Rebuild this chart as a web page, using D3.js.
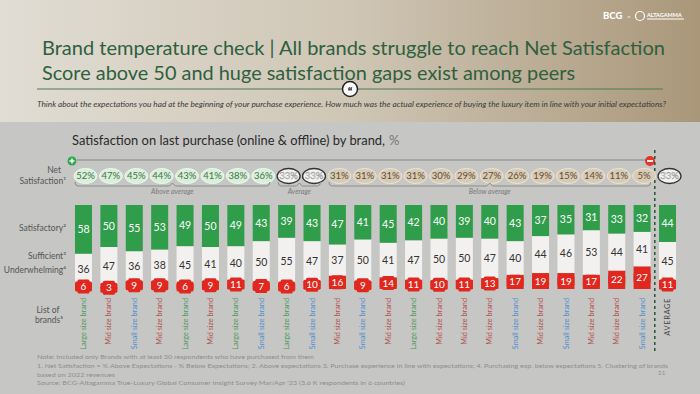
<!DOCTYPE html>
<html>
<head>
<meta charset="utf-8">
<script src="https://cdn.jsdelivr.net/npm/d3@7"></script>
<style>
  body { margin: 0; background: #c6c6c4; }
  svg { display: block; font-family: Lato, "Noto Sans", sans-serif; }
</style>
</head>
<body>
<svg id="chart" width="700" height="394"></svg>
<script>
// brand size cluster per column, last one is the average
var brands = ["Large", "Mid", "Small", "Mid", "Large", "Mid", "Large", "Small", "Large", "Small", "Mid",
              "Small", "Mid", "Large", "Mid", "Mid", "Mid", "Small", "Mid", "Small", "Mid", "Mid", "Small", "AVERAGE"];
var netSat = [52, 47, 45, 44, 43, 41, 38, 36, 33, 33, 31, 31, 31, 31, 30, 29, 27, 26, 19, 15, 14, 11, 5, 33];
var satisfactory = [58, 50, 55, 53, 49, 50, 49, 43, 39, 43, 47, 41, 45, 42, 40, 39, 40, 43, 37, 35, 31, 33, 32, 44];
var sufficient = [36, 47, 36, 38, 45, 41, 40, 50, 55, 47, 37, 50, 41, 47, 50, 50, 47, 40, 44, 46, 53, 44, 41, 45];
var underwhelming = [6, 3, 9, 9, 6, 9, 11, 7, 6, 10, 16, 9, 14, 11, 10, 11, 13, 17, 19, 19, 17, 22, 27, 11];
var groups = [
  { label: "Above average", first: 0, last: 7, kind: "above" },
  { label: "Average", first: 8, last: 9, kind: "avg" },
  { label: "Below average", first: 10, last: 22, kind: "below" }
];
var brandColor = { Large: "#4e9a5c", Mid: "#b3524e", Small: "#4f90cf", AVERAGE: "#444" };

var svg = d3.select("#chart");
var defs = svg.append("defs");
var grad = defs.append("linearGradient").attr("id", "head").attr("x1", "0").attr("x2", "1");
grad.append("stop").attr("offset", "0%").attr("stop-color", "#e1ddd4");
grad.append("stop").attr("offset", "50%").attr("stop-color", "#cfc6b5");
grad.append("stop").attr("offset", "100%").attr("stop-color", "#aa977a");

// fit a text line to a given width
function fit(sel, w) {
  sel.attr("textLength", w).attr("lengthAdjust", "spacingAndGlyphs");
  return sel;
}

// header
svg.append("rect").attr("width", 700).attr("height", 122).attr("fill", "url(#head)");
svg.append("rect").attr("y", 122).attr("width", 700).attr("height", 272).attr("fill", "#c6c6c4");

var logo = svg.append("g").attr("fill", "#fff");
logo.append("text").attr("x", 603).attr("y", 19).attr("font-size", 9.5).attr("font-weight", 900).text("BCG");
logo.append("text").attr("x", 627).attr("y", 18.5).attr("font-size", 6.5).attr("fill", "#eee").text("×");
logo.append("circle").attr("cx", 640).attr("cy", 16).attr("r", 4.5).attr("fill", "none").attr("stroke", "#fff").attr("stroke-width", 1.2);
logo.append("text").attr("x", 647).attr("y", 17).attr("font-size", 5.5).attr("font-weight", 700).text("ALTAGAMMA");
logo.append("rect").attr("x", 647).attr("y", 18.5).attr("width", 37).attr("height", 1).attr("fill", "#fff");

fit(svg.append("text").attr("x", 42).attr("y", 55).attr("font-size", 19).attr("fill", "#2f5f3e")
  .text("Brand temperature check | All brands struggle to reach Net Satisfaction"), 623);
fit(svg.append("text").attr("x", 42).attr("y", 80).attr("font-size", 19).attr("fill", "#2f5f3e")
  .text("Score above 50 and huge satisfaction gaps exist among peers"), 533);

svg.append("line").attr("x1", 37).attr("x2", 663).attr("y1", 89).attr("y2", 89)
  .attr("stroke", "#4d7b57").attr("stroke-width", 1.2);
svg.append("circle").attr("cx", 350).attr("cy", 89).attr("r", 7.5).attr("fill", "#fff")
  .attr("stroke", "#222").attr("stroke-width", 1.5);
svg.append("text").attr("x", 350).attr("y", 96).attr("text-anchor", "middle").attr("font-size", 12)
  .attr("font-weight", 900).attr("fill", "#111").text("\u201C");

fit(svg.append("text").attr("x", 37).attr("y", 107).attr("font-size", 8).attr("font-style", "italic").attr("fill", "#3a3a3a")
  .text("Think about the expectations you had at the beginning of your purchase experience. How much was the actual experience of buying the luxury item in line with your initial expectations?"), 629);

fit(svg.append("text").attr("x", 72).attr("y", 145).attr("font-size", 13).attr("fill", "#2a2a2a")
  .text("Satisfaction on last purchase (online & offline) by brand,"), 313);
svg.append("text").attr("x", 389).attr("y", 145).attr("font-size", 13).attr("fill", "#777").text("%");

// scales
var x = d3.scaleBand().domain(d3.range(brands.length)).range([70.8, 680.2]).paddingInner(0.33).paddingOuter(0.165);
var y = d3.scaleLinear().domain([0, 100]).range([289, 205]);
var bw = x.bandwidth();
function cx(i) { return x(i) + bw / 2; }

// row labels
var rowLab = svg.append("g").attr("font-size", 8.5).attr("fill", "#555").attr("text-anchor", "end");
rowLab.append("text").attr("x", 61).attr("y", 173).text("Net");
rowLab.append("text").attr("x", 66).attr("y", 184).text("Satisfaction¹");
rowLab.append("text").attr("x", 66).attr("y", 231).text("Satisfactory²");
rowLab.append("text").attr("x", 66).attr("y", 259).text("Sufficient³");
rowLab.append("text").attr("x", 66).attr("y", 273).text("Underwhelming⁴");
rowLab.append("text").attr("x", 48).attr("y", 313).attr("text-anchor", "middle").text("List of");
rowLab.append("text").attr("x", 49).attr("y", 323).attr("text-anchor", "middle").text("brands⁵");

// scale line with plus / minus
svg.append("line").attr("x1", 77).attr("x2", 646).attr("y1", 160).attr("y2", 160)
  .attr("stroke", "#9b9b9b").attr("stroke-width", 1.5);
svg.append("circle").attr("cx", 72).attr("cy", 161).attr("r", 4.5).attr("fill", "#2ea84e");
svg.append("path").attr("d", "M69.5,161H74.5M72,158.5V163.5").attr("stroke", "#fff").attr("stroke-width", 1.5);
svg.append("circle").attr("cx", 650).attr("cy", 161).attr("r", 5).attr("fill", "#e2352b");
svg.append("path").attr("d", "M647,161H653").attr("stroke", "#fff").attr("stroke-width", 1.8);

// dashed separator before the average
var sepX = (cx(brands.length - 2) + cx(brands.length - 1)) / 2;
svg.append("line").attr("x1", sepX).attr("x2", sepX).attr("y1", 150).attr("y2", 352)
  .attr("stroke", "#1e4a2c").attr("stroke-width", 1.4).attr("stroke-dasharray", "3,3");

// net satisfaction pills
function kindOf(i) {
  if (i === brands.length - 1) return "avg";
  var g = groups.find(function(g) { return i >= g.first && i <= g.last; });
  return g.kind;
}
var pillStyle = {
  above: { fill: "#d6f1d8", stroke: "#eef8ee", text: "#4d6b52" },
  avg: { fill: "#f3f3f3", stroke: "#333", text: "#fff" },
  below: { fill: "#d8cbb4", stroke: "#ece5d8", text: "#5e4c3a" }
};
var pills = svg.append("g").selectAll("g").data(netSat).enter().append("g")
  .attr("transform", function(d, i) { return "translate(" + (cx(i) + 2) + ",176)"; });
pills.append("ellipse").attr("rx", 11.5).attr("ry", 7.5)
  .attr("fill", function(d, i) { return pillStyle[kindOf(i)].fill; })
  .attr("stroke", function(d, i) { return pillStyle[kindOf(i)].stroke; })
  .attr("stroke-width", function(d, i) { return kindOf(i) === "avg" ? 1.3 : 1; });
pills.append("text").attr("text-anchor", "middle").attr("dy", "0.35em").attr("font-size", 9.5)
  .attr("fill", function(d, i) { return pillStyle[kindOf(i)].text; })
  .attr("stroke", function(d, i) { return kindOf(i) === "avg" ? "#8a8a8a" : "none"; })
  .attr("stroke-width", 0.4)
  .text(function(d) { return d + "%"; });

// group brackets
var br = svg.append("g").selectAll("g").data(groups).enter().append("g");
br.append("path").attr("fill", "none").attr("stroke", "#8c8c8c").attr("stroke-width", 1)
  .attr("d", function(g) {
    var x0 = x(g.first), x1 = x(g.last) + bw, m = (x0 + x1) / 2;
    return "M" + x0 + ",182Q" + x0 + ",186 " + (x0 + 3) + ",186H" + (m - 3) + "L" + m + ",183L" + (m + 3) + ",186H" + (x1 - 3) + "Q" + x1 + ",186 " + x1 + ",182";
  });
br.append("text").attr("x", function(g) { return (x(g.first) + x(g.last) + bw) / 2; }).attr("y", 194)
  .attr("text-anchor", "middle").attr("font-size", 7).attr("font-style", "italic").attr("fill", "#7a7a7a")
  .text(function(g) { return g.label; });

// stacked bars
var cols = svg.append("g").selectAll("g").data(brands).enter().append("g");
cols.append("rect").attr("x", function(d, i) { return x(i); }).attr("width", bw)
  .attr("y", function(d, i) { return y(underwhelming[i]); })
  .attr("height", function(d, i) { return y(0) - y(underwhelming[i]); })
  .attr("fill", "#e0281f");
cols.append("rect").attr("x", function(d, i) { return x(i); }).attr("width", bw)
  .attr("y", function(d, i) { return y(underwhelming[i] + sufficient[i]); })
  .attr("height", function(d, i) { return y(underwhelming[i]) - y(underwhelming[i] + sufficient[i]); })
  .attr("fill", "#f3f1ef");
cols.append("rect").attr("x", function(d, i) { return x(i); }).attr("width", bw)
  .attr("y", y(100))
  .attr("height", function(d, i) { return y(underwhelming[i] + sufficient[i]) - y(100); })
  .attr("fill", "#2f9d4a");

cols.append("text").attr("x", function(d, i) { return cx(i); })
  .attr("y", function(d, i) { return (y(100) + y(underwhelming[i] + sufficient[i])) / 2; })
  .attr("dy", "0.35em").attr("text-anchor", "middle").attr("font-size", 10.5).attr("fill", "#fff")
  .text(function(d, i) { return satisfactory[i]; });
cols.append("text").attr("x", function(d, i) { return cx(i); })
  .attr("y", function(d, i) { return (y(underwhelming[i]) + y(underwhelming[i] + sufficient[i])) / 2; })
  .attr("dy", "0.35em").attr("text-anchor", "middle").attr("font-size", 10.5).attr("fill", "#333")
  .text(function(d, i) { return sufficient[i]; });

// red label tags (cross-shaped when the segment is thin)
function redMid(i) { return (y(0) + y(underwhelming[i])) / 2; }
cols.append("rect").attr("x", function(d, i) { return cx(i) - bw / 2; }).attr("width", bw)
  .attr("y", function(d, i) { return redMid(i) - 5; }).attr("height", 10).attr("rx", 1.5)
  .attr("fill", "#e0281f");
cols.append("rect").attr("x", function(d, i) { return cx(i) - 6; }).attr("width", 12)
  .attr("y", function(d, i) { return redMid(i) - 7; }).attr("height", 14).attr("rx", 1.5)
  .attr("fill", "#e0281f");
cols.append("text").attr("x", function(d, i) { return cx(i); })
  .attr("y", function(d, i) { return redMid(i); })
  .attr("dy", "0.35em").attr("text-anchor", "middle").attr("font-size", 10).attr("fill", "#fff")
  .text(function(d, i) { return underwhelming[i]; });

// brand labels
cols.append("text")
  .attr("transform", function(d, i) { return "translate(" + cx(i) + ",298) rotate(-90)"; })
  .attr("text-anchor", "end").attr("dy", "0.35em")
  .attr("font-size", function(d) { return d === "AVERAGE" ? 7.5 : 7.3; })
  .attr("letter-spacing", function(d) { return d === "AVERAGE" ? 0.6 : 0; })
  .attr("fill", function(d) { return brandColor[d]; })
  .text(function(d) { return d === "AVERAGE" ? d : d + " size brand"; });

// footnotes
var foot = svg.append("g").attr("font-size", 6.3).attr("fill", "#8e8e8e");
fit(foot.append("text").attr("x", 37).attr("y", 359).text("Note: Included only Brands with at least 30 respondents who have purchased from them"), 277);
fit(foot.append("text").attr("x", 37).attr("y", 368).text("1. Net Satisfaction = % Above Expectations - % Below Expectations;  2. Above expectations  3. Purchase experience in line with expectations;  4. Purchasing exp. below expectations    5. Clustering of brands"), 631);
fit(foot.append("text").attr("x", 37).attr("y", 376.5).text("based on 2022 revenues"), 78);
fit(foot.append("text").attr("x", 37).attr("y", 384.5).text("Source: BCG-Altagamma True-Luxury Global Consumer Insight Survey Mar/Apr '23 (3.6 K respondents in 6 countries)"), 368);
foot.append("text").attr("x", 658).attr("y", 375).text("21");
</script>
</body>
</html>
